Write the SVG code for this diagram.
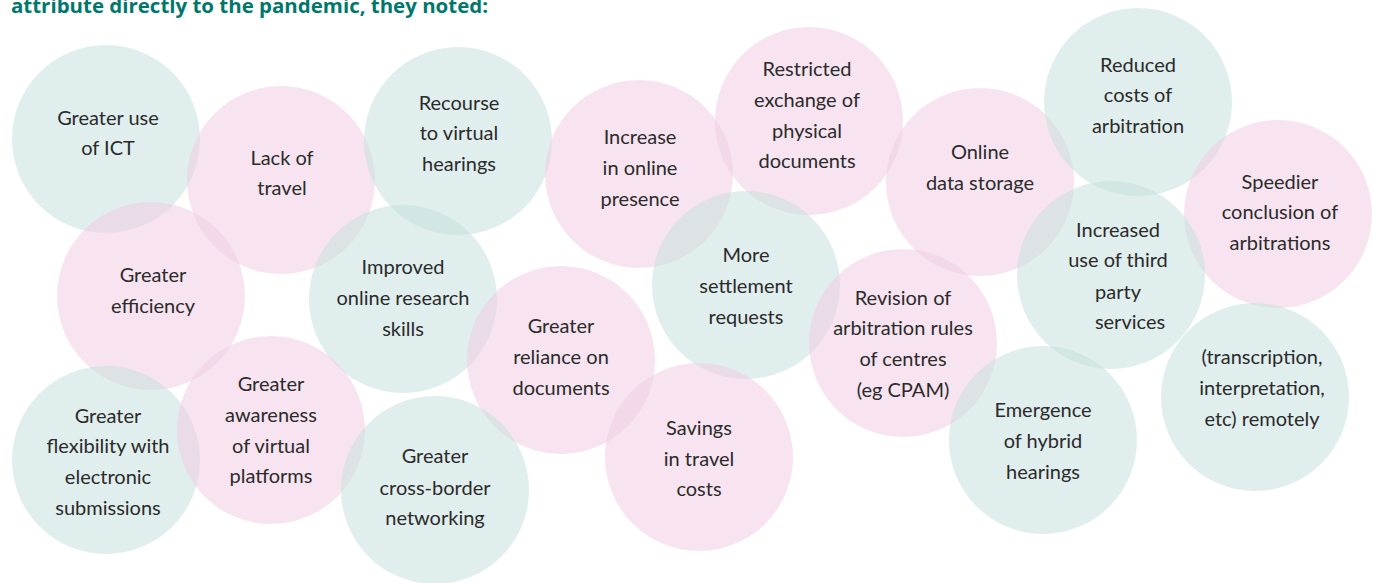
<svg xmlns="http://www.w3.org/2000/svg" width="1373" height="583" viewBox="0 0 1373 583">
<style>
.t{fill:#c6e0de;fill-opacity:0.55}
.p{fill:#f0cee4;fill-opacity:0.55}
text{font-family:Lato,"Open Sans","Liberation Sans",sans-serif;font-size:20px;fill:#2b2b2b;text-anchor:middle}
.h{font-family:"Open Sans","Liberation Sans",sans-serif;font-weight:bold;font-size:19px;fill:#00776d;text-anchor:start}
</style>
<rect width="1373" height="583" fill="#ffffff"/>
<text class="h" x="11" y="13" textLength="477" lengthAdjust="spacingAndGlyphs">attribute directly to the pandemic, they noted:</text>
<g id="n1"><circle class="t" cx="106" cy="139" r="94"/><text x="108" y="125">Greater use</text><text x="108" y="155">of ICT</text></g>
<g id="n2"><circle class="p" cx="281" cy="180" r="94"/><text x="282" y="165">Lack of</text><text x="282" y="195">travel</text></g>
<g id="n3"><circle class="t" cx="458" cy="141" r="94"/><text x="459" y="110">Recourse</text><text x="459" y="140">to virtual</text><text x="459" y="171">hearings</text></g>
<g id="n4"><circle class="p" cx="639" cy="174" r="94"/><text x="640" y="144">Increase</text><text x="640" y="175">in online</text><text x="640" y="206">presence</text></g>
<g id="n5"><circle class="p" cx="809" cy="121" r="94"/><text x="807" y="76">Restricted</text><text x="807" y="107">exchange of</text><text x="807" y="138">physical</text><text x="807" y="168">documents</text></g>
<g id="n6"><circle class="p" cx="980" cy="182" r="94"/><text x="980" y="159">Online</text><text x="980" y="190">data storage</text></g>
<g id="n7"><circle class="t" cx="1138" cy="102" r="94"/><text x="1138" y="72">Reduced</text><text x="1138" y="102">costs of</text><text x="1138" y="133">arbitration</text></g>
<g id="n8"><circle class="p" cx="1278" cy="214" r="94"/><text x="1280" y="189">Speedier</text><text x="1280" y="219">conclusion of</text><text x="1280" y="250">arbitrations</text></g>
<g id="n9"><circle class="t" cx="1111" cy="275" r="94"/><text x="1118" y="237">Increased</text><text x="1118" y="267">use of third</text><text x="1118" y="299">party</text><text x="1130" y="329">services</text></g>
<g id="n10"><circle class="t" cx="1255" cy="397" r="94"/><text x="1262" y="364">(transcription,</text><text x="1262" y="395">interpretation,</text><text x="1262" y="426">etc) remotely</text></g>
<g id="n11"><circle class="p" cx="151" cy="296" r="94"/><text x="153" y="282">Greater</text><text x="153" y="313">efficiency</text></g>
<g id="n12"><circle class="t" cx="403" cy="299" r="94"/><text x="403" y="274">Improved</text><text x="403" y="305">online research</text><text x="403" y="336">skills</text></g>
<g id="n13"><circle class="p" cx="561" cy="360" r="94"/><text x="561" y="333">Greater</text><text x="561" y="364">reliance on</text><text x="561" y="395">documents</text></g>
<g id="n14"><circle class="t" cx="746" cy="285" r="94"/><text x="746" y="262">More</text><text x="746" y="293">settlement</text><text x="746" y="324">requests</text></g>
<g id="n15"><circle class="p" cx="903" cy="343" r="94"/><text x="903" y="305">Revision of</text><text x="903" y="335">arbitration rules</text><text x="903" y="366">of centres</text><text x="903" y="397">(eg CPAM)</text></g>
<g id="n16"><circle class="t" cx="1043" cy="440" r="94"/><text x="1043" y="417">Emergence</text><text x="1043" y="448">of hybrid</text><text x="1043" y="479">hearings</text></g>
<g id="n17"><circle class="t" cx="106" cy="460" r="94"/><text x="108" y="423">Greater</text><text x="108" y="453">flexibility with</text><text x="108" y="484">electronic</text><text x="108" y="515">submissions</text></g>
<g id="n18"><circle class="p" cx="271" cy="430" r="94"/><text x="271" y="391">Greater</text><text x="271" y="422">awareness</text><text x="271" y="453">of virtual</text><text x="271" y="483">platforms</text></g>
<g id="n19"><circle class="t" cx="435" cy="490" r="94"/><text x="435" y="463">Greater</text><text x="435" y="495">cross-border</text><text x="435" y="525">networking</text></g>
<g id="n20"><circle class="p" cx="699" cy="457" r="94"/><text x="699" y="435">Savings</text><text x="699" y="466">in travel</text><text x="699" y="496">costs</text></g>
<g id="connectors"></g>
</svg>
